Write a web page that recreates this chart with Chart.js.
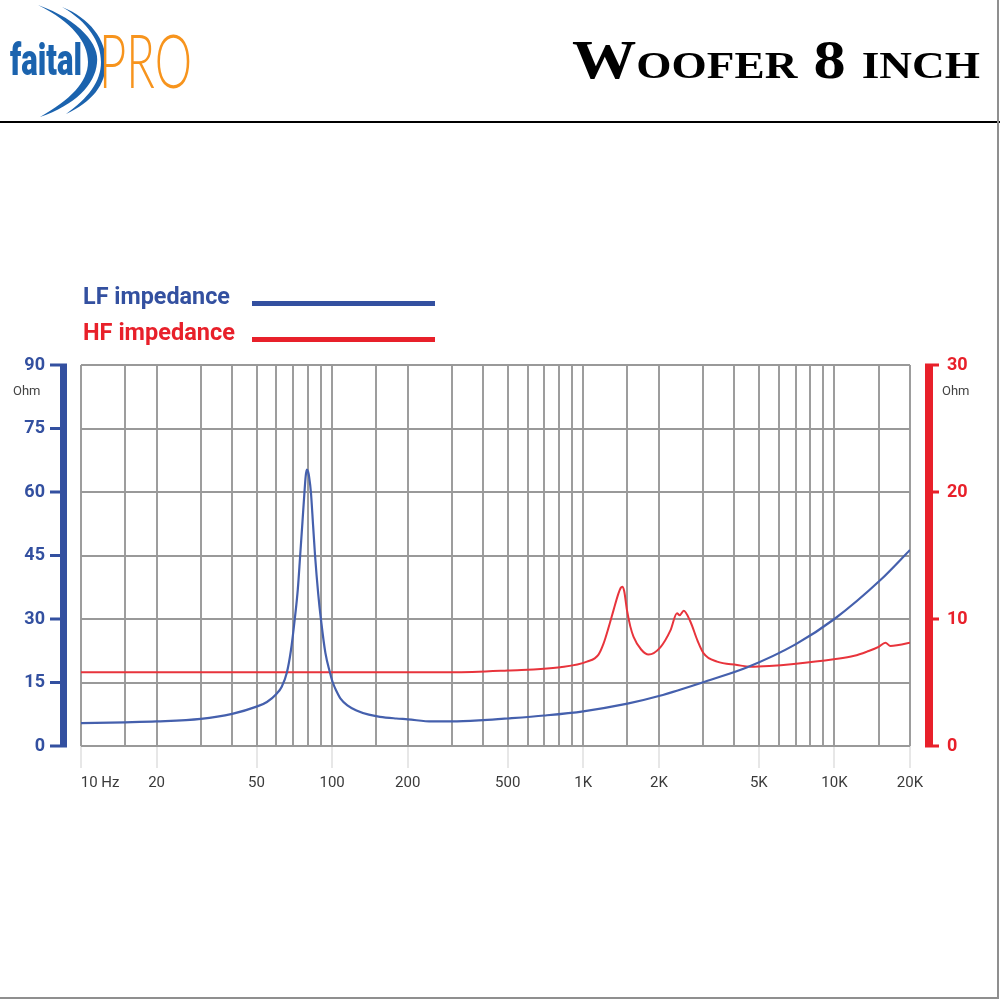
<!DOCTYPE html>
<html>
<head>
<meta charset="utf-8">
<script src="https://cdn.jsdelivr.net/npm/chart.js@4.4.1/dist/chart.umd.min.js"></script>
<style>
    body { margin: 0; background: #fff; }
    #page { position: relative; width: 1000px; height: 1000px; overflow: hidden; background: #fff; }
    #impChart { position: absolute; left: 0; top: 0; }
    #frame { position: absolute; left: 0; top: 0; width: 997px; height: 997px; border-right: 2px solid #8f8f8f; border-bottom: 2px solid #8f8f8f; }
    #logo { position: absolute; left: 0; top: 0; }
    #title { position: absolute; left: 572px; top: 33px; font-family: "Liberation Serif", serif; font-weight: bold; font-size: 54px; line-height: 54px; font-variant: small-caps; color: #000; white-space: nowrap; transform-origin: left top; }
    #rule { position: absolute; left: 0; top: 121px; width: 1000px; height: 2px; background: #000; }
    .legText { position: absolute; left: 83px; font-family: Roboto, sans-serif; font-weight: bold; font-size: 23px; line-height: 23px; white-space: nowrap; transform-origin: left top; }
    .legLine { position: absolute; left: 252px; width: 183px; height: 5px; }
    .ohm { position: absolute; top: 383px; font-family: Roboto, sans-serif; font-size: 13px; line-height: 16px; color: #444; }
</style>
</head>
<body>
<div id="page">
    <canvas id="impChart" width="1000" height="1000"></canvas>
    <svg id="logo" width="200" height="122">
        <path d="M38,5 C80,20 100,45 97,63 C95,85 75,105 40,117 C70,100 88,82 88,62 C88,42 72,22 38,5 Z" fill="#1b63ae"/>
        <path d="M62,7 C90,18 106,40 106,62 C106,85 92,102 66,114 C88,98 101,82 101,62 C101,42 88,22 62,7 Z" fill="#1b63ae"/>
        <text x="10" y="75" font-family="Roboto" font-weight="900" font-size="44" fill="#1b63ae" textLength="72" lengthAdjust="spacingAndGlyphs">faital</text>
        <text x="99" y="88" font-family="Lato" font-weight="300" font-size="74" fill="#f7941d" textLength="93" lengthAdjust="spacingAndGlyphs">PRO</text>
    </svg>
    <div id="title">Woofer 8 inch</div>
    <div id="rule"></div>
    <div id="legend"></div>
    <div class="ohm" style="left:13px">Ohm</div>
    <div class="ohm" style="left:942px">Ohm</div>
    <div id="frame"></div>
</div>
<script>
// LF impedance (Ohm, left axis)
let freqLF = [10, 15, 20, 30, 40, 50, 55, 60, 63, 66, 68.5, 71, 73, 74.6, 76.2, 77.6, 78.5, 79.3, 80.2, 81, 82.3, 84, 85.5, 88, 90.2, 94, 98.2, 100.6, 104, 108, 115, 125, 140, 155, 180, 200, 250, 300, 400, 500, 700, 1000, 1500, 2000, 3200, 4500, 7000, 10000, 15250, 20000];
let ohmLF  = [5.4, 5.6, 5.8, 6.4, 7.6, 9.3, 10.4, 12.3, 14.0, 17.3, 22.5, 30, 37, 45, 53, 60, 63.8, 65.3, 64.8, 63.5, 60, 52, 45, 36, 30, 22, 17.2, 15, 13, 11.2, 9.6, 8.4, 7.4, 6.9, 6.5, 6.3, 5.8, 5.8, 6.1, 6.5, 7.2, 8.2, 10, 11.8, 15.6, 18.6, 24, 30, 39.2, 46.3];

// HF impedance (Ohm, right axis)
let freqHF = [10, 100, 300, 500, 810, 1034, 1150, 1205, 1260, 1320, 1380, 1410, 1430, 1455, 1493, 1540, 1586, 1700, 1820, 2027, 2224, 2362, 2420, 2512, 2669, 2850, 3015, 3410, 4095, 4624, 5500, 6886, 9935, 12000, 13490, 15000, 15960, 16720, 18000, 20000];
let ohmHF  = [5.8, 5.8, 5.8, 5.95, 6.2, 6.64, 7.2, 8.08, 9.3, 10.7, 12.0, 12.45, 12.54, 12.2, 10.7, 9.4, 8.6, 7.6, 7.2, 7.77, 9.1, 10.45, 10.3, 10.65, 9.8, 8.3, 7.3, 6.64, 6.38, 6.24, 6.3, 6.46, 6.83, 7.1, 7.43, 7.8, 8.13, 7.87, 7.95, 8.13];

// grille et graduations
let gridFreqs = [10, 15, 20, 30, 40, 50, 60, 70, 80, 90, 100, 150, 200, 300, 400, 500, 600, 700, 800, 900, 1000, 1500, 2000, 3000, 4000, 5000, 6000, 7000, 8000, 9000, 10000, 15000, 20000];
let tickValuesX = [10, 20, 50, 100, 200, 500, 1000, 2000, 5000, 10000, 20000];
let tickLabelsX = ['10 Hz', '20', '50', '100', '200', '500', '1K', '2K', '5K', '10K', '20K'];

let blue = '#3350a0';
let red = '#e8202a';

function toPoints(xs, ys) {
    let pts = [];
    for (let i = 0; i < xs.length; i++) {
        pts.push({x: xs[i], y: ys[i]});
    }
    return pts;
}

// barres épaisses des axes Y
const axisBars = {
    id: 'axisBars',
    afterDraw(chart) {
        let ctx = chart.ctx;
        let area = chart.chartArea;
        drawBar(chart.scales.y, area.left - 21, 7, -10, blue);
        drawBar(chart.scales.y2, area.right + 15, 8, 6, red);

        function drawBar(scale, x, w, tick, color) {
            let top = scale.getPixelForValue(scale.max);
            let bottom = scale.getPixelForValue(scale.min);
            ctx.save();
            ctx.fillStyle = color;
            ctx.fillRect(x, top - 1.5, w, bottom - top + 3);
            scale.ticks.forEach((t) => {
                let y = scale.getPixelForValue(t.value);
                if (tick < 0) {
                    ctx.fillRect(x + tick, y - 1.5, -tick, 3);
                } else {
                    ctx.fillRect(x + w, y - 1.5, tick, 3);
                }
            });
            ctx.restore();
        }
    }
};

let config = {
    type: 'line',
    data: {
        datasets: [{
            label: 'LF impedance',
            data: toPoints(freqLF, ohmLF),
            yAxisID: 'y',
            borderColor: '#4560ad',
            legendColor: blue,
            borderWidth: 2.2,
            pointRadius: 0,
            cubicInterpolationMode: 'monotone',
            fill: false
        }, {
            label: 'HF impedance',
            data: toPoints(freqHF, ohmHF),
            yAxisID: 'y2',
            borderColor: '#e8343c',
            legendColor: red,
            borderWidth: 2,
            pointRadius: 0,
            cubicInterpolationMode: 'monotone',
            fill: false
        }]
    },
    options: {
        responsive: false,
        animation: false,
        devicePixelRatio: 1,
        layout: {padding: {top: 365, left: 0, right: 0, bottom: 0}},
        plugins: {legend: {display: false}, tooltip: {enabled: false}},
        scales: {
            x: {
                type: 'logarithmic',
                min: 10,
                max: 20000,
                afterBuildTicks: (scale) => { scale.ticks = gridFreqs.map((v) => ({value: v})); },
                afterFit: (scale) => { scale.height = 254; },
                border: {display: false},
                grid: {
                    color: '#9d9d9d',
                    lineWidth: 2,
                    tickLength: 22,
                    tickWidth: 1,
                    tickColor: (ctx) => tickValuesX.includes(ctx.tick.value) ? '#cfcfcf' : 'rgba(0,0,0,0)'
                },
                ticks: {
                    autoSkip: false,
                    maxRotation: 0,
                    padding: 6,
                    color: '#3a3a3a',
                    font: {family: 'Roboto', size: 15},
                    callback: function (value) {
                        let i = tickValuesX.indexOf(value);
                        if (i < 0) return '';
                        return i === 0 ? '\u2003\u2003\u2002' + tickLabelsX[i] : tickLabelsX[i];
                    }
                }
            },
            y: {
                position: 'left',
                min: 0,
                max: 90,
                afterFit: (scale) => { scale.width = 81; },
                border: {display: false},
                grid: {color: '#999', lineWidth: 2, drawTicks: false},
                ticks: {stepSize: 15, padding: 36, color: blue, font: {family: 'Roboto', size: 18, weight: 'bold'}}
            },
            y2: {
                position: 'right',
                min: 0,
                max: 30,
                afterFit: (scale) => { scale.width = 90; },
                border: {display: false},
                grid: {drawOnChartArea: false, drawTicks: false},
                ticks: {stepSize: 10, padding: 37, color: red, font: {family: 'Roboto', size: 18, weight: 'bold'}}
            }
        }
    },
    plugins: [axisBars]
};

let chart = new Chart(document.getElementById('impChart'), config);

// légende : texte puis trait
let legend = document.getElementById('legend');
let baselines = [304, 340];
chart.data.datasets.forEach((ds, i) => {
    let txt = document.createElement('div');
    txt.className = 'legText';
    txt.textContent = ds.label;
    txt.style.color = ds.legendColor;
    txt.style.top = (baselines[i] - 19.5) + 'px';
    legend.appendChild(txt);
    let w = txt.getBoundingClientRect().width;
    txt.style.transform = 'scaleX(' + ((i === 0 ? 147 : 152) / w) + ')';

    let line = document.createElement('div');
    line.className = 'legLine';
    line.style.background = ds.legendColor;
    line.style.top = (baselines[i] - 3) + 'px';
    legend.appendChild(line);
});

// ajuste la largeur du titre
let title = document.getElementById('title');
let tw = title.getBoundingClientRect().width;
title.style.transform = 'scaleX(' + (408 / tw) + ')';
</script>
</body>
</html>
